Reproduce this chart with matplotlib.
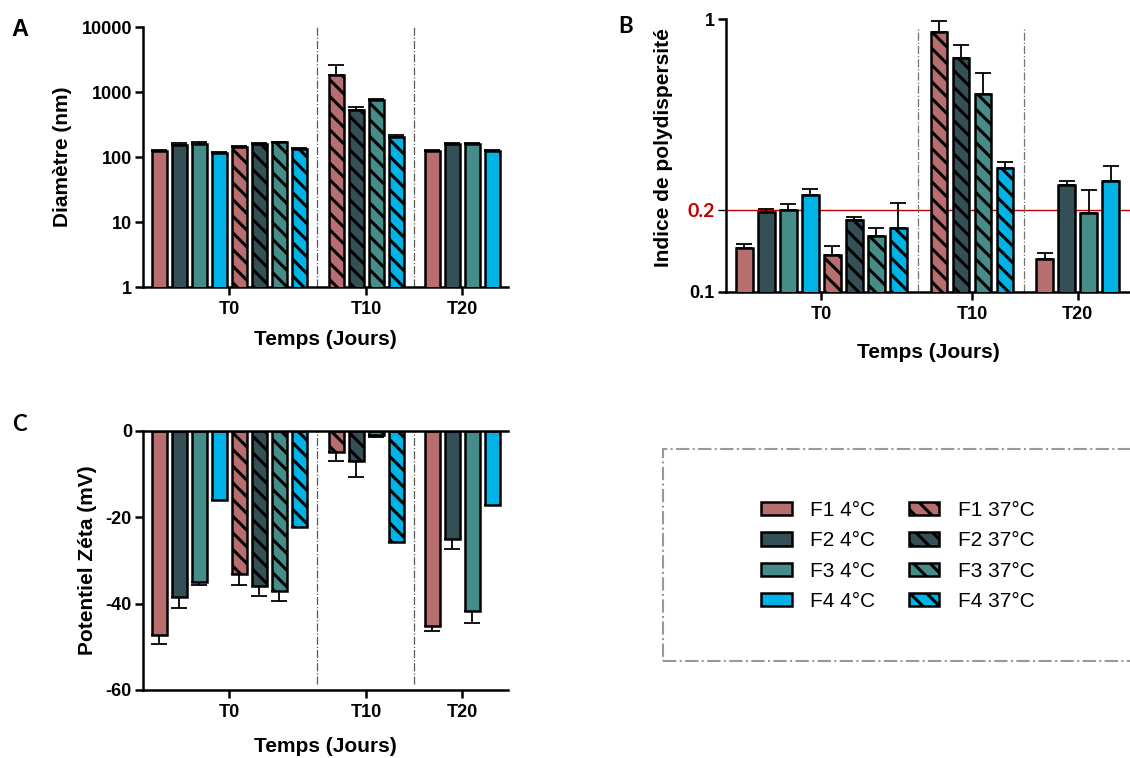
import matplotlib.pyplot as plt
from matplotlib.patches import Rectangle, Patch
import numpy as np

plt.rcParams['font.family'] = ['Liberation Sans', 'DejaVu Sans']
plt.rcParams['font.weight'] = 'bold'
plt.rcParams['axes.labelweight'] = 'bold'
plt.rcParams['hatch.linewidth'] = 2.2

# series / groups
series = ['F1 4°C', 'F2 4°C', 'F3 4°C', 'F4 4°C',
          'F1 37°C', 'F2 37°C', 'F3 37°C', 'F4 37°C']
colors = ['#b86e6e', '#344f55', '#468d89', '#00b3e6'] * 2
hatches = [''] * 4 + ['\\\\'] * 4
groups = ['T0', 'T10', 'T20']

# A - Diametre (nm); T0 has all 8 series, T10 only 37°C, T20 only 4°C
diam_t0 = [124, 153, 160, 117, 142, 160, 168, 134]
diam_t0_err = [6, 9, 8, 3, 4, 5, 5, 5]
diam_t10 = [1848, 535, 744, 201]
diam_t10_err = [720, 52, 36, 17]
diam_t20 = [122, 160, 160, 125]
diam_t20_err = [4, 6, 5, 3]

# B - indice de polydispersite
pdi_t0 = [0.145, 0.196, 0.200, 0.226, 0.137, 0.183, 0.160, 0.171]
pdi_t0_err = [0.005, 0.005, 0.010, 0.013, 0.010, 0.006, 0.011, 0.040]
pdi_t10 = [0.896, 0.719, 0.530, 0.285]
pdi_t10_err = [0.091, 0.081, 0.102, 0.014]
pdi_t20 = [0.132, 0.247, 0.194, 0.254]
pdi_t20_err = [0.007, 0.007, 0.042, 0.036]
pdi_limit = 0.2

# C - potentiel zeta (mV)
zeta_t0 = [-47.3, -38.5, -35.0, -16.0, -33.2, -35.9, -37.2, -22.3]
zeta_t0_err = [2.1, 2.5, 0.8, 0, 2.4, 2.4, 2.1, 0]
zeta_t10 = [-4.9, -6.9, -0.9, -25.8]
zeta_t10_err = [2.1, 3.8, 0.5, 0]
zeta_t20 = [-45.2, -25.1, -41.7, -17.2]
zeta_t20_err = [1.1, 2.2, 2.7, 0]

# bar slots
pos_t0 = np.arange(8)
pos_t10 = 8.85 + np.arange(4)
pos_t20 = 13.65 + np.arange(4)
tick_pos = [3.5, pos_t10[0] + 1.5, pos_t20[0] + 1.5]
sep_pos = [7.9, 12.72]

W, H = 1130, 758
fig = plt.figure(figsize=(W / 100, H / 100), dpi=100)


def box(l, t, r, b):
    return [l / W, 1 - b / H, (r - l) / W, (b - t) / H]


def draw_bars(ax, t0, t0e, t10, t10e, t20, t20e, down=False):
    for i in range(8):
        x = [pos_t0[i]]
        v = [t0[i]]
        e = [t0e[i]]
        if i >= 4:
            x.append(pos_t10[i - 4]); v.append(t10[i - 4]); e.append(t10e[i - 4])
        else:
            x.append(pos_t20[i]); v.append(t20[i]); e.append(t20e[i])
        ax.bar(x, v, width=0.75, color=colors[i], edgecolor='black',
               linewidth=1.8, hatch=hatches[i], label=series[i], zorder=3)
        z = np.zeros(len(e))
        yerr = [e, z] if down else [z, e]
        ax.errorbar(x, v, yerr=yerr, fmt='none', ecolor='black',
                    elinewidth=1.3, capsize=6, capthick=1.3, zorder=2)


def style(ax):
    for s in ['top', 'right']:
        ax.spines[s].set_visible(False)
    for s in ['left', 'bottom']:
        ax.spines[s].set_linewidth(1.8)
    ax.tick_params(direction='out', length=6, width=1.8, labelsize=13, pad=2)
    ax.tick_params(axis='x', pad=4)
    ax.set_xticks(tick_pos)
    ax.set_xticklabels(groups, fontsize=13, fontweight='bold')


# ---------- A ----------
axA = fig.add_axes(box(143, 27, 508, 287))
axA.set_yscale('log')
draw_bars(axA, diam_t0, diam_t0_err, diam_t10, diam_t10_err, diam_t20, diam_t20_err)
axA.set_ylim(1, 10000)
axA.set_xlim(-0.825, 17.43)
axA.minorticks_off()
axA.set_yticks([1, 10, 100, 1000, 10000])
axA.set_yticklabels(['1', '10', '100', '1000', '10000'])
style(axA)
for s in sep_pos:
    axA.axvline(s, ls='-.', color='0.35', lw=0.9, zorder=1)
axA.set_ylabel('Diamètre (nm)', fontsize=15)
axA.yaxis.set_label_coords(-0.195, 0.5)
axA.set_xlabel('Temps (Jours)', fontsize=15)
axA.xaxis.set_label_coords(0.5, -0.165)

# ---------- B ----------
axB = fig.add_axes(box(726, 19, 1130, 292))
axB.set_yscale('log')
axB.axhline(pdi_limit, color='#c00000', lw=1, zorder=1)
draw_bars(axB, pdi_t0, pdi_t0_err, pdi_t10, pdi_t10_err, pdi_t20, pdi_t20_err)
axB.set_ylim(0.1, 1)
axB.set_xlim(-0.83, 17.53)
axB.minorticks_off()
axB.set_yticks([0.1, pdi_limit, 1])
axB.set_yticklabels(['0.1', '0.2', '1'])
style(axB)
lab = axB.get_yticklabels()[1]
lab.set_color('#c00000')
lab.set_family(['Lato', 'DejaVu Sans'])
lab.set_fontsize(14)
tk = axB.yaxis.get_major_ticks()[1]
tk.tick1line.set_color('#c00000')
tk.tick1line.set_markeredgewidth(1)
for s in sep_pos:
    axB.axvline(s, ymax=0.97, ls='-.', color='0.45', lw=0.9, zorder=1)
axB.set_ylabel('Indice de polydispersité', fontsize=15)
axB.yaxis.set_label_coords(-0.131, 0.53)
axB.set_xlabel('Temps (Jours)', fontsize=15)
axB.xaxis.set_label_coords(0.502, -0.185)

# ---------- C ----------
axC = fig.add_axes(box(143, 430.7, 508, 690))
draw_bars(axC, zeta_t0, zeta_t0_err, zeta_t10, zeta_t10_err, zeta_t20, zeta_t20_err, down=True)
axC.set_ylim(-60, 0)
axC.set_xlim(-0.825, 17.43)
axC.set_yticks([-60, -40, -20, 0])
axC.set_yticklabels(['-60', '-40', '-20', '0'])
style(axC)
axC.spines['top'].set_visible(True)
axC.spines['top'].set_linewidth(1.8)
axC.spines['top'].set_zorder(4)
for s in sep_pos:
    axC.axvline(s, ymin=0.025, ls='-.', color='0.35', lw=0.9, zorder=1)
axC.set_ylabel('Potentiel Zéta (mV)', fontsize=15)
axC.yaxis.set_label_coords(-0.126, 0.5)
axC.set_xlabel('Temps (Jours)', fontsize=15)
axC.xaxis.set_label_coords(0.5, -0.18)

# panel letters
fig.text(11 / W, 1 - 36 / H, 'A', fontsize=17, fontweight='bold')
fig.text(618 / W, 1 - 33 / H, 'B', fontsize=16, fontweight='bold', family=['Lato', 'DejaVu Sans'])
fig.text(12 / W, 1 - 431 / H, 'C', fontsize=16, fontweight='bold', family=['Lato', 'DejaVu Sans'])

# legend box + legend
fig.patches.append(Rectangle((663 / W, 1 - 661 / H), 0.45, 212 / H, transform=fig.transFigure,
                             fill=False, edgecolor='#999999', lw=1.5, ls='-.'))
handles = [Patch(facecolor=colors[i], edgecolor='black', linewidth=1.8, hatch=hatches[i])
           for i in range(8)]
fig.legend(handles, series, ncol=2, loc='center', bbox_to_anchor=(898 / W, 1 - 556 / H),
           frameon=False, prop={'size': 15, 'weight': 'normal'},
           handlelength=1.45, handleheight=0.6, handletextpad=0.9,
           columnspacing=1.6, labelspacing=0.55)

fig.savefig('out.png', dpi=100)
